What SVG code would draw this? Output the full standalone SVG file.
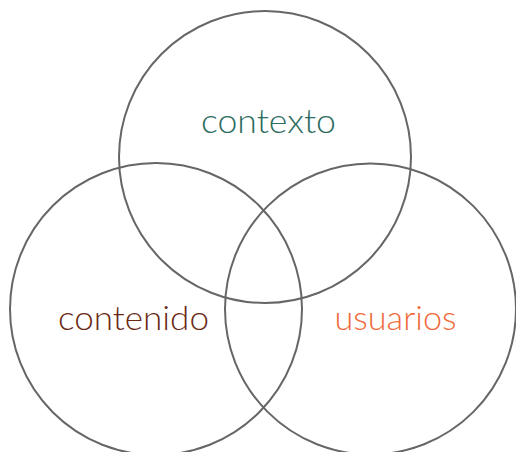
<svg xmlns="http://www.w3.org/2000/svg" width="516" height="452" viewBox="0 0 516 452">
<style>
.c{fill:none;stroke:#666666;stroke-width:2}
.t{font-family:Lato,"Open Sans","Liberation Sans",sans-serif;font-weight:300;font-size:34px}
</style>
<rect width="516" height="452" fill="#ffffff"/>
<g id="contexto">
<circle class="c" cx="265" cy="157" r="146"/>
<text class="t" x="201" y="132.5" fill="#2c6c60" textLength="135" lengthAdjust="spacingAndGlyphs">contexto</text>
</g>
<g id="contenido">
<circle class="c" cx="156" cy="309" r="146"/>
<text class="t" x="58" y="329.5" fill="#6a2914" textLength="151" lengthAdjust="spacingAndGlyphs">contenido</text>
</g>
<g id="usuarios">
<circle class="c" cx="370.5" cy="309" r="145.5"/>
<text class="t" x="334.5" y="329.5" fill="#ef6a3a" textLength="122" lengthAdjust="spacingAndGlyphs">usuarios</text>
</g>
</svg>
